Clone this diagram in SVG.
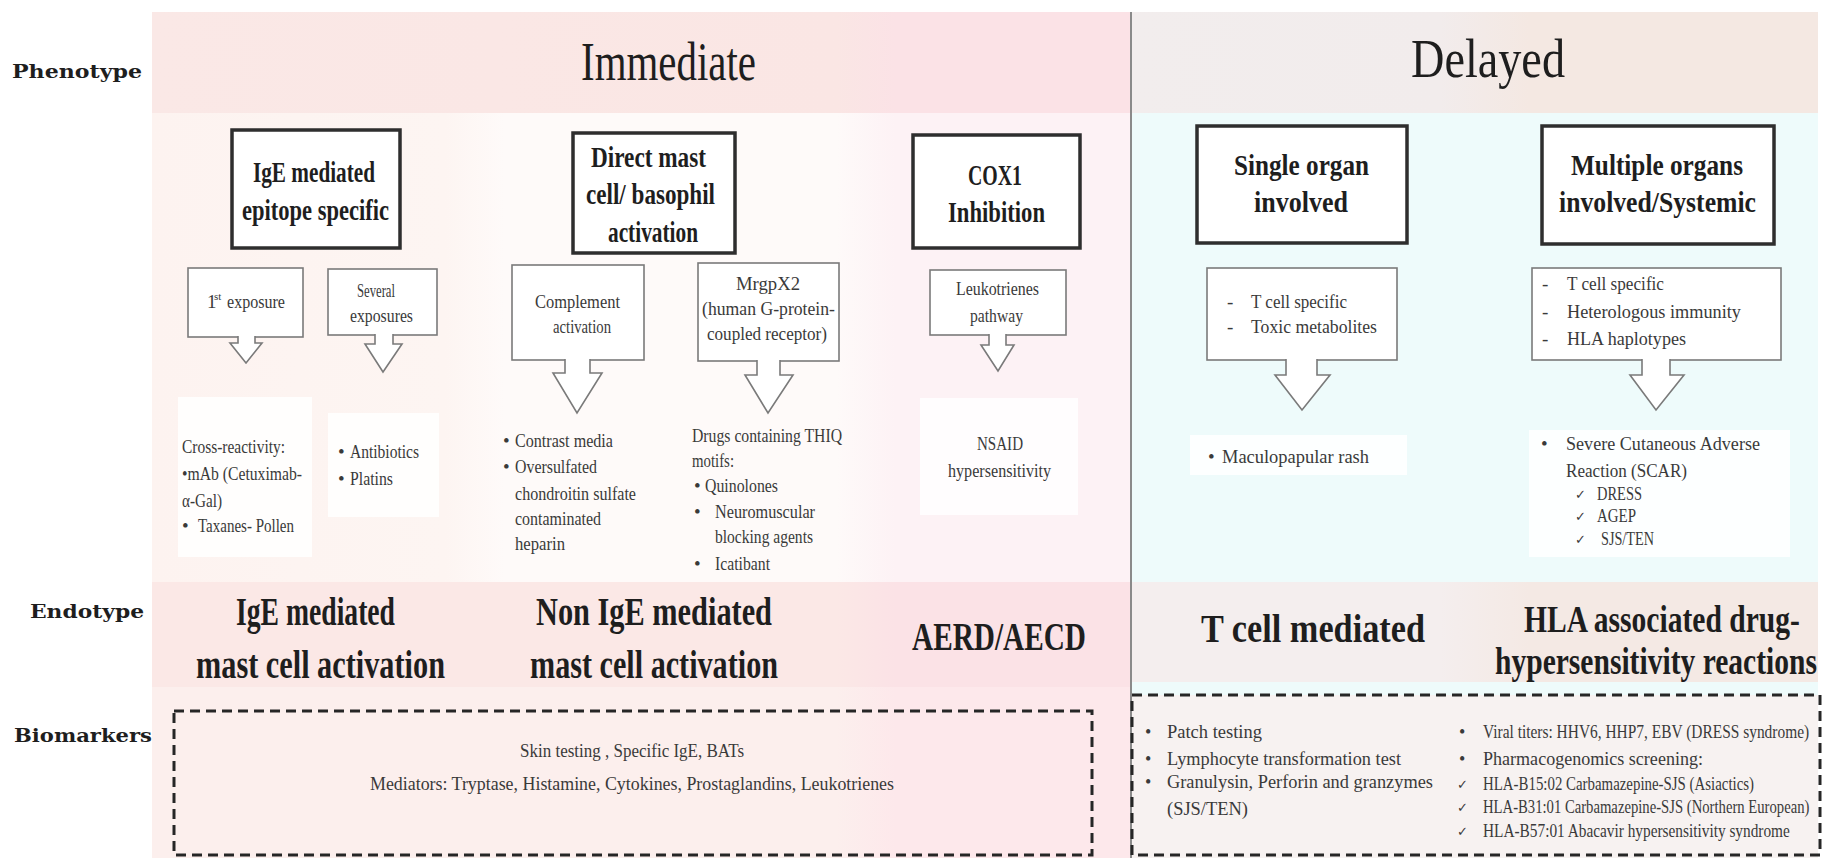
<svg xmlns="http://www.w3.org/2000/svg" width="1825" height="858" viewBox="0 0 1825 858">
<style>
.lbl{font-family:"DejaVu Serif","Liberation Serif",serif;font-weight:bold;font-size:19px;fill:#1e1e1e}
.hdr{font-family:"Liberation Serif",serif;font-size:54px;fill:#1e1e1e}
.bt{font-family:"Liberation Serif",serif;font-weight:bold;font-size:30px;fill:#1e1e1e}
.et{font-family:"Liberation Serif",serif;font-weight:bold;font-size:40px;fill:#1e1e1e}
.st{font-family:"Liberation Serif",serif;font-size:19px;fill:#3a3a3a}
.sup{font-family:"Liberation Serif",serif;font-size:11px;fill:#3a3a3a}
.bm{font-family:"Liberation Serif",serif;font-size:18px;fill:#3a3a3a}
.ck{font-family:"DejaVu Sans",sans-serif;font-size:13px;fill:#3a3a3a}
.main{fill:#fff;stroke:#2e2e2e;stroke-width:3.5}
.sub{fill:#fff;stroke:#7a7a7a;stroke-width:1.6}
.arr{fill:#fff;stroke:#7a7a7a;stroke-width:1.6;stroke-linejoin:miter}
.dash{fill:none;stroke:#262626;stroke-width:3;stroke-dasharray:10 6}
.soft{fill:#fff;opacity:0.85}
</style>
<defs>
<linearGradient id="gImmTop" x1="0" y1="0" x2="1" y2="0">
<stop offset="0" stop-color="#fae8e6"/><stop offset="0.7" stop-color="#fae6e4"/><stop offset="0.76" stop-color="#fbe2e6"/><stop offset="1" stop-color="#fbe2e6"/>
</linearGradient>
<linearGradient id="gImmMid" x1="0" y1="0" x2="1" y2="0">
<stop offset="0" stop-color="#fdf3f0"/><stop offset="0.3" stop-color="#fdf5f2"/><stop offset="0.36" stop-color="#fefaf9"/><stop offset="0.7" stop-color="#fefaf9"/><stop offset="0.76" stop-color="#fdf2f5"/><stop offset="1" stop-color="#fdf2f5"/>
</linearGradient>
<linearGradient id="gImmEnd" x1="0" y1="0" x2="1" y2="0">
<stop offset="0" stop-color="#fbe8e6"/><stop offset="0.7" stop-color="#fbe8e6"/><stop offset="0.76" stop-color="#fbe2e6"/><stop offset="1" stop-color="#fbe2e6"/>
</linearGradient>
<linearGradient id="gImmBio" x1="0" y1="0" x2="1" y2="0">
<stop offset="0" stop-color="#fcefed"/><stop offset="0.7" stop-color="#fcefed"/><stop offset="0.76" stop-color="#fde8eb"/><stop offset="1" stop-color="#fde8eb"/>
</linearGradient>
<linearGradient id="gDelTop" x1="0" y1="0" x2="1" y2="0">
<stop offset="0" stop-color="#f2eded"/><stop offset="0.45" stop-color="#f2ecec"/><stop offset="0.58" stop-color="#f4e8e2"/><stop offset="1" stop-color="#f4e8e2"/>
</linearGradient>
<linearGradient id="gDelEnd" x1="0" y1="0" x2="1" y2="0">
<stop offset="0" stop-color="#f4eeee"/><stop offset="0.45" stop-color="#f4eeee"/><stop offset="0.58" stop-color="#f4e9e4"/><stop offset="1" stop-color="#f4e9e4"/>
</linearGradient>
</defs>
<rect width="1825" height="858" fill="#fff"/>
<g id="backgrounds">
<rect x="152" y="12" width="978" height="101" fill="url(#gImmTop)"/>
<rect x="152" y="113" width="978" height="469" fill="url(#gImmMid)"/>
<rect x="152" y="582" width="978" height="105" fill="url(#gImmEnd)"/>
<rect x="152" y="687" width="978" height="171" fill="url(#gImmBio)"/>
<rect x="1130" y="12" width="688" height="101" fill="url(#gDelTop)"/>
<rect x="1130" y="113" width="688" height="469" fill="#eefbfb"/>
<rect x="1130" y="582" width="688" height="100" fill="url(#gDelEnd)"/>
<rect x="1130" y="682" width="688" height="13" fill="#eefbfb"/>
<rect x="1130" y="695" width="688" height="163" fill="#f7f2f1"/>
<line x1="1131" y1="12" x2="1131" y2="858" stroke="#8a8a8a" stroke-width="2"/>
</g>
<g id="row-labels">
<text class="lbl" x="12" y="78" textLength="130" lengthAdjust="spacingAndGlyphs">Phenotype</text>
<text class="lbl" x="30" y="618" textLength="114" lengthAdjust="spacingAndGlyphs">Endotype</text>
<text class="lbl" x="14" y="742" textLength="138" lengthAdjust="spacingAndGlyphs">Biomarkers</text>
</g>
<g id="header-immediate"><text class="hdr" x="581" y="80" textLength="175" lengthAdjust="spacingAndGlyphs">Immediate</text></g>
<g id="header-delayed"><text class="hdr" x="1411" y="77" textLength="154" lengthAdjust="spacingAndGlyphs">Delayed</text></g>

<g id="node-ige">
<rect class="main" x="232" y="130" width="168" height="118"/>
<text class="bt" x="253" y="182" textLength="122" lengthAdjust="spacingAndGlyphs">IgE mediated</text>
<text class="bt" x="242" y="220" textLength="147" lengthAdjust="spacingAndGlyphs">epitope specific</text>
</g>
<g id="node-direct">
<rect class="main" x="573" y="133" width="162" height="120"/>
<text class="bt" x="591" y="167" textLength="115" lengthAdjust="spacingAndGlyphs">Direct mast</text>
<text class="bt" x="586" y="204" textLength="129" lengthAdjust="spacingAndGlyphs">cell/ basophil</text>
<text class="bt" x="608" y="242" textLength="90" lengthAdjust="spacingAndGlyphs">activation</text>
</g>
<g id="node-cox1">
<rect class="main" x="913" y="135" width="167" height="113"/>
<text class="bt" x="968" y="185" textLength="54" lengthAdjust="spacingAndGlyphs">COX1</text>
<text class="bt" x="948" y="222" textLength="97" lengthAdjust="spacingAndGlyphs">Inhibition</text>
</g>
<g id="node-single">
<rect class="main" x="1197" y="126" width="210" height="117"/>
<text class="bt" x="1234" y="175" textLength="135" lengthAdjust="spacingAndGlyphs">Single organ</text>
<text class="bt" x="1254" y="212" textLength="94" lengthAdjust="spacingAndGlyphs">involved</text>
</g>
<g id="node-multiple">
<rect class="main" x="1542" y="126" width="232" height="118"/>
<text class="bt" x="1571" y="175" textLength="172" lengthAdjust="spacingAndGlyphs">Multiple organs</text>
<text class="bt" x="1559" y="212" textLength="197" lengthAdjust="spacingAndGlyphs">involved/Systemic</text>
</g>

<g id="node-first-exposure">
<rect class="sub" x="188" y="268" width="115" height="69"/>
<text class="st" x="207" y="308">1</text>
<text class="sup" x="214" y="300">st</text>
<text class="st" x="227" y="308" textLength="58" lengthAdjust="spacingAndGlyphs">exposure</text>
</g>
<g id="node-several">
<rect class="sub" x="328" y="269" width="109" height="66"/>
<text class="st" x="357" y="297" textLength="38" lengthAdjust="spacingAndGlyphs">Several</text>
<text class="st" x="350" y="322" textLength="63" lengthAdjust="spacingAndGlyphs">exposures</text>
</g>
<g id="node-complement">
<rect class="sub" x="512" y="265" width="132" height="95"/>
<text class="st" x="535" y="308" textLength="85" lengthAdjust="spacingAndGlyphs">Complement</text>
<text class="st" x="553" y="333" textLength="58" lengthAdjust="spacingAndGlyphs">activation</text>
</g>
<g id="node-mrgpx2">
<rect class="sub" x="698" y="263" width="141" height="98"/>
<text class="st" x="736" y="290" textLength="64" lengthAdjust="spacingAndGlyphs">MrgpX2</text>
<text class="st" x="702" y="315" textLength="133" lengthAdjust="spacingAndGlyphs">(human G-protein-</text>
<text class="st" x="707" y="340" textLength="120" lengthAdjust="spacingAndGlyphs">coupled receptor)</text>
</g>
<g id="node-leukotrienes">
<rect class="sub" x="930" y="270" width="136" height="65"/>
<text class="st" x="956" y="295" textLength="83" lengthAdjust="spacingAndGlyphs">Leukotrienes</text>
<text class="st" x="970" y="322" textLength="53" lengthAdjust="spacingAndGlyphs">pathway</text>
</g>
<g id="node-single-mech">
<rect class="sub" x="1207" y="268" width="190" height="92"/>
<text class="st" x="1227" y="308">-</text>
<text class="st" x="1251" y="308" textLength="96" lengthAdjust="spacingAndGlyphs">T cell specific</text>
<text class="st" x="1227" y="333">-</text>
<text class="st" x="1251" y="333" textLength="126" lengthAdjust="spacingAndGlyphs">Toxic metabolites</text>
</g>
<g id="node-multi-mech">
<rect class="sub" x="1532" y="268" width="249" height="92"/>
<text class="st" x="1542" y="290">-</text>
<text class="st" x="1567" y="290" textLength="97" lengthAdjust="spacingAndGlyphs">T cell specific</text>
<text class="st" x="1542" y="318">-</text>
<text class="st" x="1567" y="318" textLength="174" lengthAdjust="spacingAndGlyphs">Heterologous immunity</text>
<text class="st" x="1542" y="345">-</text>
<text class="st" x="1567" y="345" textLength="119" lengthAdjust="spacingAndGlyphs">HLA haplotypes</text>
</g>

<g id="connectors">
<path class="arr" d="M238 336 V343 H230 L246 363 L262 343 H255 V336"/>
<path class="arr" d="M375 334 V344 H365 L383 372 L402 344 H393 V334"/>
<path class="arr" d="M565 359 V373 H553 L577 413 L602 373 H590 V359"/>
<path class="arr" d="M757 360 V375 H745 L768 413 L793 375 H780 V360"/>
<path class="arr" d="M989 334 V345 H981 L998 371 L1014 345 H1006 V334"/>
<path class="arr" d="M1286 359 V375 H1275 L1302 410 L1330 375 H1317 V359"/>
<path class="arr" d="M1642 359 V375 H1630 L1656 410 L1684 375 H1670 V359"/>
</g>

<g id="node-ige-result">
<rect class="soft" x="178" y="397" width="134" height="160"/>
<text class="st" x="182" y="453" textLength="103" lengthAdjust="spacingAndGlyphs">Cross-reactivity:</text>
<text class="st" x="182" y="480" textLength="120" lengthAdjust="spacingAndGlyphs">•mAb (Cetuximab-</text>
<text class="st" x="182" y="507" textLength="40" lengthAdjust="spacingAndGlyphs">α-Gal)</text>
<text class="st" x="182" y="532">•</text>
<text class="st" x="198" y="532" textLength="96" lengthAdjust="spacingAndGlyphs">Taxanes- Pollen</text>
</g>
<g id="node-several-result">
<rect class="soft" x="328" y="413" width="111" height="104"/>
<text class="st" x="338" y="458">•</text>
<text class="st" x="350" y="458" textLength="69" lengthAdjust="spacingAndGlyphs">Antibiotics</text>
<text class="st" x="338" y="485">•</text>
<text class="st" x="350" y="485" textLength="43" lengthAdjust="spacingAndGlyphs">Platins</text>
</g>
<g id="node-complement-result">
<text class="st" x="503" y="447">•</text>
<text class="st" x="515" y="447" textLength="98" lengthAdjust="spacingAndGlyphs">Contrast media</text>
<text class="st" x="503" y="473">•</text>
<text class="st" x="515" y="473" textLength="82" lengthAdjust="spacingAndGlyphs">Oversulfated</text>
<text class="st" x="515" y="500" textLength="121" lengthAdjust="spacingAndGlyphs">chondroitin sulfate</text>
<text class="st" x="515" y="525" textLength="86" lengthAdjust="spacingAndGlyphs">contaminated</text>
<text class="st" x="515" y="550" textLength="50" lengthAdjust="spacingAndGlyphs">heparin</text>
</g>
<g id="node-mrgpx2-result">
<text class="st" x="692" y="442" textLength="150" lengthAdjust="spacingAndGlyphs">Drugs containing THIQ</text>
<text class="st" x="692" y="467" textLength="42" lengthAdjust="spacingAndGlyphs">motifs:</text>
<text class="st" x="694" y="492">•</text>
<text class="st" x="705" y="492" textLength="73" lengthAdjust="spacingAndGlyphs">Quinolones</text>
<text class="st" x="694" y="518">•</text>
<text class="st" x="715" y="518" textLength="100" lengthAdjust="spacingAndGlyphs">Neuromuscular</text>
<text class="st" x="715" y="543" textLength="98" lengthAdjust="spacingAndGlyphs">blocking agents</text>
<text class="st" x="694" y="570">•</text>
<text class="st" x="715" y="570" textLength="55" lengthAdjust="spacingAndGlyphs">Icatibant</text>
</g>
<g id="node-nsaid">
<rect class="soft" x="920" y="398" width="158" height="117"/>
<text class="st" x="977" y="450" textLength="46" lengthAdjust="spacingAndGlyphs">NSAID</text>
<text class="st" x="948" y="477" textLength="103" lengthAdjust="spacingAndGlyphs">hypersensitivity</text>
</g>
<g id="node-maculopapular">
<rect class="soft" x="1190" y="435" width="217" height="40"/>
<text class="st" x="1208" y="463">•</text>
<text class="st" x="1222" y="463" textLength="147" lengthAdjust="spacingAndGlyphs">Maculopapular rash</text>
</g>
<g id="node-scar">
<rect class="soft" x="1529" y="430" width="261" height="127"/>
<text class="st" x="1541" y="450">•</text>
<text class="st" x="1566" y="450" textLength="194" lengthAdjust="spacingAndGlyphs">Severe Cutaneous Adverse</text>
<text class="st" x="1566" y="477" textLength="121" lengthAdjust="spacingAndGlyphs">Reaction (SCAR)</text>
<text class="ck" x="1575" y="499">✓</text>
<text class="st" x="1597" y="500" textLength="45" lengthAdjust="spacingAndGlyphs">DRESS</text>
<text class="ck" x="1575" y="521">✓</text>
<text class="st" x="1597" y="522" textLength="39" lengthAdjust="spacingAndGlyphs">AGEP</text>
<text class="ck" x="1575" y="544">✓</text>
<text class="st" x="1601" y="545" textLength="53" lengthAdjust="spacingAndGlyphs">SJS/TEN</text>
</g>

<g id="endotype-ige">
<text class="et" x="236" y="625" textLength="159" lengthAdjust="spacingAndGlyphs">IgE mediated</text>
<text class="et" x="196" y="678" textLength="249" lengthAdjust="spacingAndGlyphs">mast cell activation</text>
</g>
<g id="endotype-nonige">
<text class="et" x="536" y="625" textLength="236" lengthAdjust="spacingAndGlyphs">Non IgE mediated</text>
<text class="et" x="530" y="678" textLength="248" lengthAdjust="spacingAndGlyphs">mast cell activation</text>
</g>
<g id="endotype-aerd"><text class="et" x="912" y="650" textLength="174" lengthAdjust="spacingAndGlyphs">AERD/AECD</text></g>
<g id="endotype-tcell"><text class="et" x="1201" y="642" textLength="224" lengthAdjust="spacingAndGlyphs">T cell mediated</text></g>
<g id="endotype-hla">
<text class="et" transform="translate(1524 632) scale(0.795 1)" style="font-size:37px" textLength="347" lengthAdjust="spacingAndGlyphs">HLA associated drug-</text>
<text class="et" transform="translate(1495 674) scale(0.797 1)" style="font-size:37px" textLength="404" lengthAdjust="spacingAndGlyphs">hypersensitivity reactions</text>
</g>

<g id="biomarkers-immediate">
<rect class="dash" x="174" y="711" width="918" height="144"/>
<text class="bm" x="520" y="757" textLength="224" lengthAdjust="spacingAndGlyphs">Skin testing , Specific IgE, BATs</text>
<text class="bm" x="370" y="790" textLength="524" lengthAdjust="spacingAndGlyphs">Mediators: Tryptase, Histamine, Cytokines, Prostaglandins, Leukotrienes</text>
</g>
<g id="biomarkers-delayed">
<rect class="dash" x="1132" y="695" width="688" height="160"/>
<text class="bm" x="1145" y="738">•</text>
<text class="bm" x="1167" y="738" textLength="95" lengthAdjust="spacingAndGlyphs">Patch testing</text>
<text class="bm" x="1145" y="765">•</text>
<text class="bm" x="1167" y="765" textLength="234" lengthAdjust="spacingAndGlyphs">Lymphocyte transformation test</text>
<text class="bm" x="1145" y="788">•</text>
<text class="bm" x="1167" y="788" textLength="266" lengthAdjust="spacingAndGlyphs">Granulysin, Perforin and granzymes</text>
<text class="bm" x="1167" y="815" textLength="81" lengthAdjust="spacingAndGlyphs">(SJS/TEN)</text>
<text class="bm" x="1459" y="738">•</text>
<text class="bm" transform="translate(1483 738) scale(0.845 1)" textLength="386" lengthAdjust="spacingAndGlyphs">Viral titers: HHV6, HHP7, EBV  (DRESS syndrome)</text>
<text class="bm" x="1459" y="765">•</text>
<text class="bm" x="1483" y="765" textLength="220" lengthAdjust="spacingAndGlyphs">Pharmacogenomics screening:</text>
<text class="ck" x="1457" y="789">✓</text>
<text class="bm" x="1483" y="790" textLength="271" lengthAdjust="spacingAndGlyphs">HLA-B15:02 Carbamazepine-SJS (Asiactics)</text>
<text class="ck" x="1457" y="812">✓</text>
<text class="bm" transform="translate(1483 813) scale(0.8 1)" textLength="408" lengthAdjust="spacingAndGlyphs">HLA-B31:01 Carbamazepine-SJS (Northern European)</text>
<text class="ck" x="1457" y="836">✓</text>
<text class="bm" transform="translate(1483 837) scale(0.85 1)" textLength="361" lengthAdjust="spacingAndGlyphs">HLA-B57:01 Abacavir hypersensitivity syndrome</text>
</g>
</svg>
